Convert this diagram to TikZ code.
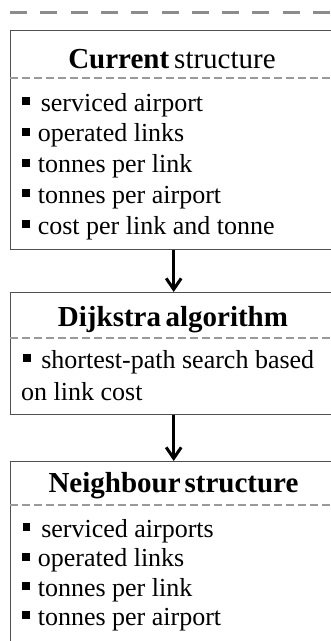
\documentclass[tikz,border=0pt]{standalone}
\usepackage{fontspec}
\setmainfont{Liberation Serif}
\usetikzlibrary{arrows.meta}
\definecolor{framegray}{HTML}{505050}
\definecolor{dividergray}{HTML}{9A9A9A}
\definecolor{bandgray}{HTML}{8C8C8C}
% small filled square used as list marker
\newcommand\sqmark{\rule[6pt]{7.6pt}{7.6pt}}
\begin{document}
\begin{tikzpicture}[x=1pt,y=-1pt,
  panel/.style={draw=framegray, line width=1.4pt, inner sep=0pt, anchor=north west, minimum width=326pt},
  heading/.style={anchor=base, inner sep=0pt, font=\fontsize{29}{33}\selectfont},
  entry/.style={anchor=base west, inner sep=0pt, font=\fontsize{26}{31}\selectfont},
  divider/.style={draw=dividergray, line width=1.5pt, dash pattern=on 8pt off 4pt},
  band/.style={draw=bandgray, line width=3pt, dash pattern=on 17pt off 13.3pt},
  flow/.style={draw=black, line width=3pt, -{Straight Barb[length=11pt,width=15pt,line width=3pt]}},
]
\useasboundingbox (0,0) rectangle (331,641);
\clip (0,0) rectangle (331,641);

% dashed band across the top
\draw[band] (10,12.5) -- (345,12.5);

% the three panels
\node[panel, minimum height=219pt] (box1) at (10,30) {};
\node[panel, minimum height=122pt] (box2) at (10,292) {};
\node[panel, minimum height=240pt] (box3) at (10,461) {};

% headings and dividers
\node[heading] (t1) at (172,68) {\textbf{Current}\hspace{5pt}structure};
\draw[divider] (10,78) -- (340,78);
\node[heading] (t2) at (173,326) {\textbf{Dijkstra}\hspace{4.5pt}\textbf{algorithm}};
\draw[divider] (10,338) -- (340,338);
\node[heading] (t3) at (173.5,492) {\textbf{Neighbour}\hspace{4pt}\textbf{structure}};
\draw[divider] (10,505) -- (340,505);

% entries of the first panel
\node[entry] (c1) at (22,111) {\sqmark\hspace{11pt}serviced airport};
\node[entry] (c2) at (22,141.5) {\sqmark\hspace{8pt}operated links};
\node[entry] (c3) at (22,172.5) {\sqmark\hspace{8pt}tonnes per link};
\node[entry] (c4) at (22,203) {\sqmark\hspace{8pt}tonnes per airport};
\node[entry] (c5) at (22,234) {\sqmark\hspace{8pt}cost per link and tonne};

% entries of the second panel
\node[entry] (d1) at (23,368) {\sqmark\hspace{10.5pt}shortest-path search based};
\node[entry] (d2) at (21,400) {on link cost};

% entries of the third panel
\node[entry] (n1) at (22.5,537) {\sqmark\hspace{11pt}serviced airports};
\node[entry] (n2) at (22,566.5) {\sqmark\hspace{8pt}operated links};
\node[entry] (n3) at (22,596) {\sqmark\hspace{8pt}tonnes per link};
\node[entry] (n4) at (22,625) {\sqmark\hspace{8pt}tonnes per airport};

% flow between panels
\draw[flow] (box1.south) -- (box2.north);
\draw[flow] (box2.south) -- (box3.north);
\end{tikzpicture}
\end{document}
